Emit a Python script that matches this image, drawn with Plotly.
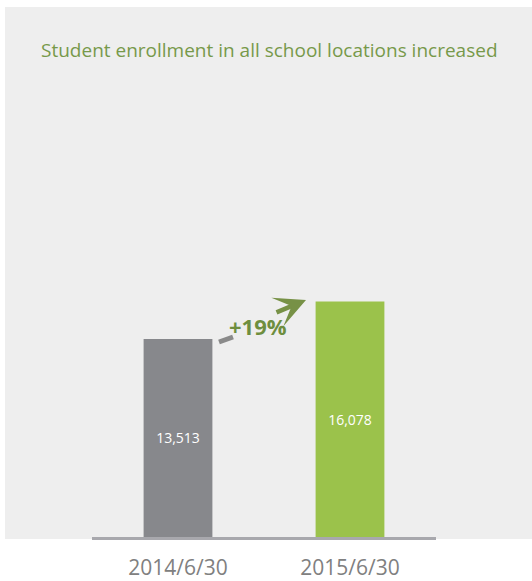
import plotly.graph_objects as go

categories = ["2014/6/30", "2015/6/30"]
enrollment = [13513, 16078]
bar_colors = ["#87888c", "#9bc24b"]
bar_labels = ["13,513", "16,078"]
title_text = "Student enrollment in all school locations increased"
growth_text = "+19%"

fig = go.Figure()
fig.add_trace(go.Bar(
    x=categories, y=enrollment,
    marker=dict(color=bar_colors, line=dict(width=0)),
    width=0.4,
    text=bar_labels, textposition="inside", insidetextanchor="middle",
    textfont=dict(color="white", size=14, family="Open Sans"),
    hoverinfo="skip",
))

W, H = 532, 581
L, R, T, B = 92, 96, 7, 44
pw, ph = W - L - R, H - T - B

def px(xp):
    return (xp - L) / pw

def py(yp):
    return (H - B - yp) / ph

fig.update_layout(
    width=W, height=H,
    margin=dict(l=L, r=R, t=T, b=B, pad=0, autoexpand=False),
    paper_bgcolor="white",
    plot_bgcolor="rgba(0,0,0,0)",
    showlegend=False,
    xaxis=dict(range=[-0.5, 1.5], showgrid=False, zeroline=False,
               showline=True, linecolor="#a8a8ad", linewidth=3,
               ticks="outside", ticklen=10, tickcolor="rgba(0,0,0,0)",
               tickfont=dict(size=21, color="#808080", family="Open Sans"),
               automargin=False, fixedrange=True),
    yaxis=dict(range=[0, 36170], visible=False, automargin=False,
               fixedrange=True),
    shapes=[
        dict(type="rect", xref="paper", yref="paper", layer="below",
             x0=px(5), x1=px(532), y0=py(539), y1=py(7),
             fillcolor="#eeeeee", line=dict(width=0)),
        dict(type="line", xref="paper", yref="paper",
             x0=px(219), y0=py(342), x1=px(233), y1=py(337),
             line=dict(color="#8a8a8a", width=5)),
    ],
    annotations=[
        dict(text=title_text, xref="paper", yref="paper",
             x=px(269), y=py(50), xanchor="center", yanchor="middle",
             showarrow=False,
             font=dict(size=19, color="#77994a", family="Open Sans")),
        dict(text="<b>" + growth_text + "</b>", xref="paper", yref="paper",
             x=px(258), y=py(326), xanchor="center", yanchor="middle",
             showarrow=False,
             font=dict(size=22, color="#6e8e3e", family="Open Sans")),
        dict(text="", xref="paper", yref="paper",
             x=px(306), y=py(300), ax=-31, ay=13,
             showarrow=True, arrowhead=3, arrowsize=1.15, arrowwidth=4.5,
             arrowcolor="#779146"),
    ],
)

fig.write_html(
    "out.html",
    config={"displayModeBar": False},
    post_script="document.body.style.margin='0';document.body.style.overflow='hidden';",
)
